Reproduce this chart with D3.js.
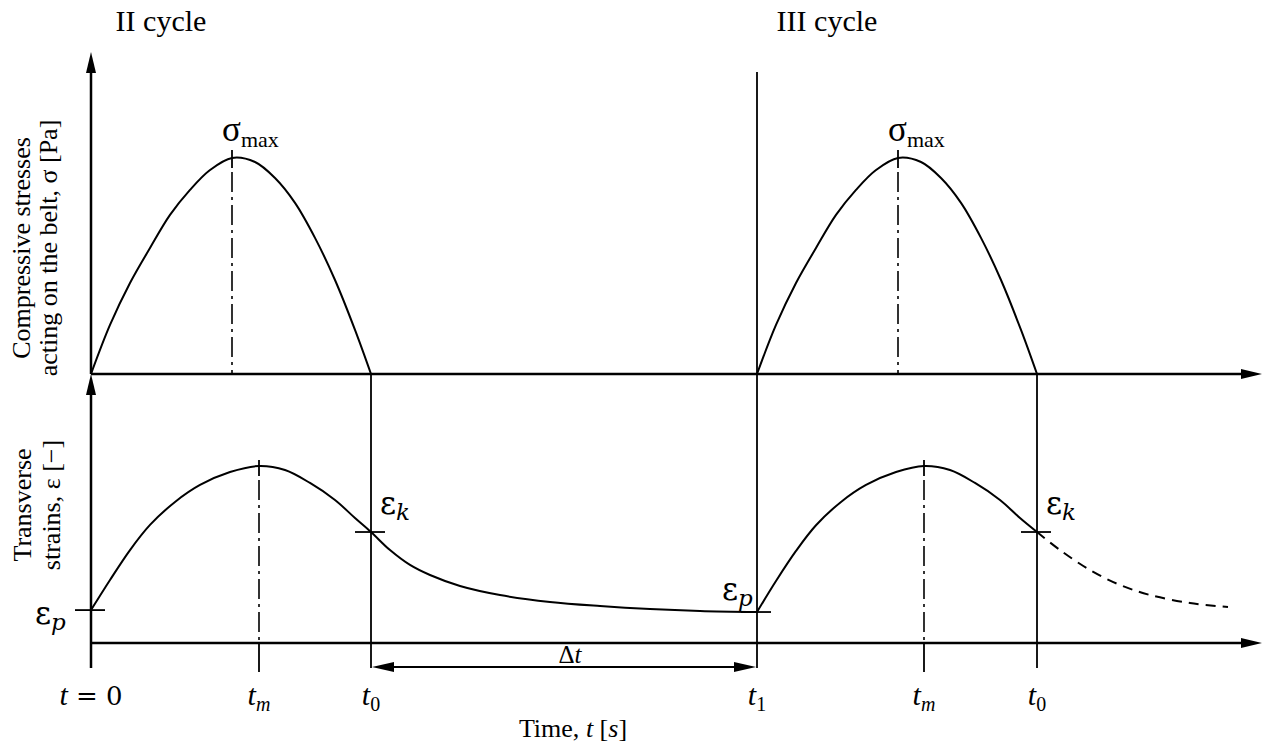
<!DOCTYPE html>
<html><head><meta charset="utf-8">
<script src="https://cdn.jsdelivr.net/npm/d3@7"></script>
<style>body{margin:0;background:#fff}</style>
</head><body><svg id="c" width="1272" height="753"></svg>
<script>
// ---------- data ----------
const cycleTitles = ["II cycle", "III cycle"];
const cycleStarts = [0, 6.66];
const eventTimes = [0, 1.68, 2.80, 6.66, 8.33, 9.46];
const eventMain = ["t", "t", "t", "t", "t", "t"];
const eventSub = ["", "m", "0", "1", "m", "0"];
const eventSuffix = [" = 0", "", "", "", "", ""];
const stressPeakTimes = [1.41, 8.07];
const strainPeakTimes = [1.68, 8.33];

const stressTimes1 = [0, 0.19, 0.39, 0.59, 0.79, 0.99, 1.19, 1.41, 1.64, 1.84, 2.04, 2.24, 2.44, 2.64, 2.80];
const stressValues1 = [0, 0.227, 0.421, 0.583, 0.736, 0.852, 0.944, 1.0, 0.981, 0.907, 0.792, 0.630, 0.435, 0.204, 0];
const stressTimes2 = [6.66, 6.85, 7.05, 7.25, 7.45, 7.65, 7.85, 8.07, 8.30, 8.50, 8.70, 8.90, 9.10, 9.30, 9.46];
const stressValues2 = [0, 0.227, 0.421, 0.583, 0.736, 0.852, 0.944, 1.0, 0.981, 0.907, 0.792, 0.630, 0.435, 0.204, 0];

const strainTimes1 = [0, 0.19, 0.39, 0.59, 0.84, 1.09, 1.39, 1.68, 1.94, 2.19, 2.44, 2.64, 2.80, 2.99, 3.19, 3.39, 3.69, 4.09, 4.59, 5.09, 5.59, 6.09, 6.66];
const strainValues1 = [0.186, 0.356, 0.525, 0.667, 0.797, 0.893, 0.966, 1.0, 0.977, 0.904, 0.808, 0.706, 0.627, 0.525, 0.441, 0.384, 0.322, 0.271, 0.232, 0.209, 0.192, 0.181, 0.175];
const strainTimes2 = [6.66, 6.85, 7.05, 7.25, 7.50, 7.75, 8.05, 8.33, 8.59, 8.84, 9.09, 9.29, 9.46];
const strainValues2 = [0.175, 0.350, 0.520, 0.665, 0.797, 0.893, 0.966, 1.0, 0.977, 0.904, 0.808, 0.706, 0.627];
const strainDashTimes = [9.46, 9.69, 9.99, 10.29, 10.59, 10.99, 11.37];
const strainDashValues = [0.627, 0.525, 0.412, 0.328, 0.271, 0.226, 0.203];

const strainMarkTimes = [0, 2.80, 6.66, 9.46];
const strainMarkValues = [0.186, 0.627, 0.175, 0.627];
const strainMarkSub = ["p", "k", "p", "k"];

// ---------- layout ----------
const svg = d3.select("#c");
const X0 = 91, X1 = 1262;
const x = d3.scaleLinear().domain([0, 11.71]).range([X0, X1]);
const yS = d3.scaleLinear().domain([0, 1.49]).range([374, 52]);
const yE = d3.scaleLinear().domain([0, 1.497]).range([643, 378]);
const serif = "'Liberation Serif', 'Times New Roman', serif";
const mathF = "'DejaVu Serif', serif";
const tickBottom = 668;

function arrow(tipX, tipY, dir, len = 21, hw = 5) {
  let p;
  if (dir === "right") p = [[tipX, tipY], [tipX - len, tipY - hw], [tipX - len, tipY + hw]];
  else if (dir === "left") p = [[tipX, tipY], [tipX + len, tipY - hw], [tipX + len, tipY + hw]];
  else p = [[tipX, tipY], [tipX - hw, tipY + len], [tipX + hw, tipY + len]];
  svg.append("path").attr("d", "M" + p.join("L") + "Z").attr("fill", "#000");
}
function line(x1, y1, x2, y2, w, dash) {
  const l = svg.append("line").attr("x1", x1).attr("y1", y1).attr("x2", x2).attr("y2", y2)
    .attr("stroke", "#000").attr("stroke-width", w);
  if (dash) l.attr("stroke-dasharray", dash);
  return l;
}

// axes
line(x(0), yS(0), X1 - 15, yS(0), 2.5); arrow(X1, yS(0), "right");
line(x(0), yE(0), X1 - 15, yE(0), 2.5); arrow(X1, yE(0), "right");
line(x(0), yS(0), x(0), yS(1.49) + 15, 2.5); arrow(x(0), yS(1.49), "up");
line(x(0), tickBottom, x(0), 390, 2.5); arrow(x(0), 374, "up");

// vertical event lines
line(x(eventTimes[2]), yS(0), x(eventTimes[2]), tickBottom, 1.8);
line(x(eventTimes[3]), 72, x(eventTimes[3]), tickBottom, 1.8);
line(x(eventTimes[5]), yS(0), x(eventTimes[5]), tickBottom, 1.8);

// curves
const gen = (ys) => d3.line().x(d => x(d[0])).y(d => ys(d[1])).curve(d3.curveCatmullRom.alpha(0.5));
const zip = (a, b) => a.map((v, i) => [v, b[i]]);
[[stressTimes1, stressValues1], [stressTimes2, stressValues2]].forEach(([t, v]) =>
  svg.append("path").attr("d", gen(yS)(zip(t, v))).attr("fill", "none").attr("stroke", "#000").attr("stroke-width", 2));
[[strainTimes1, strainValues1], [strainTimes2, strainValues2]].forEach(([t, v]) =>
  svg.append("path").attr("d", gen(yE)(zip(t, v))).attr("fill", "none").attr("stroke", "#000").attr("stroke-width", 2));
svg.append("path").attr("d", gen(yE)(zip(strainDashTimes, strainDashValues)))
  .attr("fill", "none").attr("stroke", "#000").attr("stroke-width", 2).attr("stroke-dasharray", "10,7");

// stress peaks: tick + dash-dot + label
stressPeakTimes.forEach(t => {
  const px = x(t), py = yS(1);
  line(px, py - 8, px, py + 10, 1.8);
  line(px, py + 14, px, yS(0), 1.6, "20,5,3,5");
  const tx = svg.append("text").attr("x", px - 10).attr("y", py - 17).attr("font-family", serif).attr("font-size", 35);
  tx.append("tspan").text("σ");
  tx.append("tspan").attr("font-size", 22).attr("dy", 6).text("max");
});
// strain peaks
strainPeakTimes.forEach(t => {
  const px = x(t), py = yE(1);
  line(px, py - 6, px, py + 10, 1.8);
  line(px, py + 14, px, yE(0), 1.6, "20,5,3,5");
  line(px, yE(0), px, tickBottom + 4, 1.8);
});

// strain marks
const markDx = [-56, 9, -35, 9];
const markDy = [14, -18, -12, -18];
strainMarkTimes.forEach((t, i) => {
  const px = x(t), py = yE(strainMarkValues[i]);
  line(px - 16, py, px + 14, py, 1.8);
  const tx = svg.append("text").attr("font-family", mathF).attr("font-size", 31)
    .attr("x", px + markDx[i]).attr("y", py + markDy[i]);
  tx.append("tspan").text("ε");
  tx.append("tspan").attr("font-style", "italic").attr("font-size", 23).attr("dy", 6).text(strainMarkSub[i]);
});

// Δt arrow
const dY = 667;
line(x(eventTimes[2]) + 15, dY, x(eventTimes[3]) - 15, dY, 1.8);
arrow(x(eventTimes[2]) + 1, dY, "left", 22, 5);
arrow(x(eventTimes[3]) - 1, dY, "right", 22, 5);
const dl = svg.append("text").attr("x", (x(eventTimes[2]) + x(eventTimes[3])) / 2 + 6).attr("y", 663)
  .attr("text-anchor", "middle").attr("font-family", serif).attr("font-size", 25);
dl.append("tspan").text("Δ");
dl.append("tspan").attr("font-style", "italic").text("t");

// event labels
eventTimes.forEach((t, i) => {
  const tx = svg.append("text").attr("x", x(t)).attr("y", 705).attr("text-anchor", "middle")
    .attr("font-family", serif).attr("font-size", 30);
  tx.append("tspan").attr("font-style", "italic").text(eventMain[i]);
  if (eventSub[i]) tx.append("tspan").attr("font-size", 20).attr("dy", 6)
    .attr("font-style", eventSub[i] === "m" ? "italic" : "normal").text(eventSub[i]);
  if (eventSuffix[i]) tx.append("tspan").attr("font-family", mathF).attr("font-size", 26).text(eventSuffix[i]);
});

// axis title
const xt = svg.append("text").attr("x", 573).attr("y", 737).attr("text-anchor", "middle")
  .attr("font-family", serif).attr("font-size", 26);
xt.append("tspan").text("Time, ");
xt.append("tspan").attr("font-style", "italic").text("t");
xt.append("tspan").text(" [");
xt.append("tspan").attr("font-style", "italic").text("s");
xt.append("tspan").text("]");

// cycle titles
cycleTitles.forEach((c, i) => {
  svg.append("text").attr("x", x(cycleStarts[i]) + 70).attr("y", 31).attr("text-anchor", "middle")
    .attr("font-family", serif).attr("font-size", 30).text(c);
});

// y-axis titles
const yl1 = svg.append("text").attr("transform", "translate(30,248) rotate(-90)").attr("text-anchor", "middle")
  .attr("font-family", serif).attr("font-size", 26);
yl1.append("tspan").attr("x", 0).attr("dy", 0).text("Compressive stresses");
yl1.append("tspan").attr("x", 0).attr("dy", 27).text("acting on the belt, σ [Pa]");
const yl2 = svg.append("text").attr("transform", "translate(31,505) rotate(-90)").attr("text-anchor", "middle")
  .attr("font-family", serif).attr("font-size", 26);
yl2.append("tspan").attr("x", 0).attr("dy", 0).text("Transverse");
yl2.append("tspan").attr("x", 0).attr("dy", 29).text("strains, ε [−]");
</script></body></html>
